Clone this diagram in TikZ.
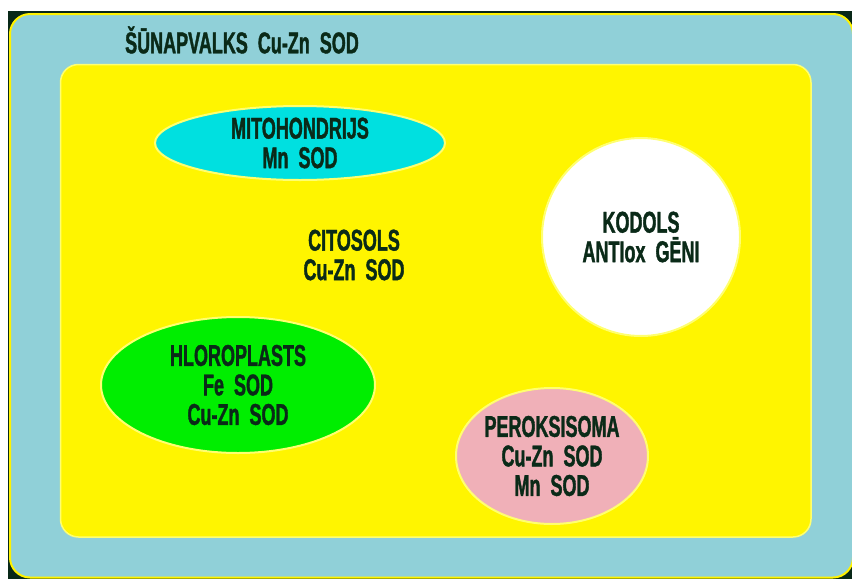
\documentclass[tikz,border=0pt]{standalone}
\usepackage{fontspec}
\setmainfont{Liberation Sans}[FakeStretch=0.6, FakeBold=1.2]
\usetikzlibrary{shapes.geometric}

\definecolor{cellblue}{HTML}{90D0D8}
\definecolor{cytoyellow}{HTML}{FFF500}
\definecolor{rimyellow}{HTML}{FFFF70}
\definecolor{mitocyan}{HTML}{00E0E0}
\definecolor{chlorogreen}{HTML}{00EE00}
\definecolor{peroxpink}{HTML}{F0B0B8}
\definecolor{labelink}{HTML}{0A2A18}
\definecolor{shadowink}{HTML}{082818}

\newcommand{\wgap}{\hspace{10pt}}

\begin{document}
\begin{tikzpicture}[x=1pt, y=-1pt,
    lbl/.style={text=labelink, font=\bfseries\fontsize{30}{29.5}\selectfont, align=center},
    organelle/.style={lbl, ellipse, draw=rimyellow, line width=2pt, inner sep=0pt}]

    \useasboundingbox (0,0) rectangle (852,579);

    % membrane and cytosol
    \fill[shadowink] (8,11) rectangle (852,579);
    \draw[fill=cellblue, draw=yellow, line width=2pt, rounded corners=20pt] (10,14) rectangle (853,577.5);
    \draw[fill=cytoyellow, draw=rimyellow, line width=1.5pt, rounded corners=18pt] (60.5,64.5) rectangle (811,537);

    \node[lbl] (membrane) at (242,40) {ŠŪNAPVALKS\wgap Cu-Zn\wgap SOD};
    \node[lbl] (cytosol) at (354,255) {CITOSOLS\\Cu-Zn\wgap SOD};

    % organelles
    \node[organelle, fill=mitocyan, minimum width=290, minimum height=74] (mito) at (300,143) {MITOHONDRIJS\\Mn\wgap SOD};
    \node[organelle, circle, fill=white, minimum size=198] (nucleus) at (641,237) {KODOLS\\ANTIox\wgap GĒNI};
    \node[organelle, fill=chlorogreen, minimum width=274, minimum height=136] (chloro) at (238,385) {HLOROPLASTS\\Fe\wgap SOD\\Cu-Zn\wgap SOD};
    \node[organelle, fill=peroxpink, minimum width=192, minimum height=136] (perox) at (552,456) {PEROKSISOMA\\Cu-Zn\wgap SOD\\Mn\wgap SOD};

\end{tikzpicture}
\end{document}
